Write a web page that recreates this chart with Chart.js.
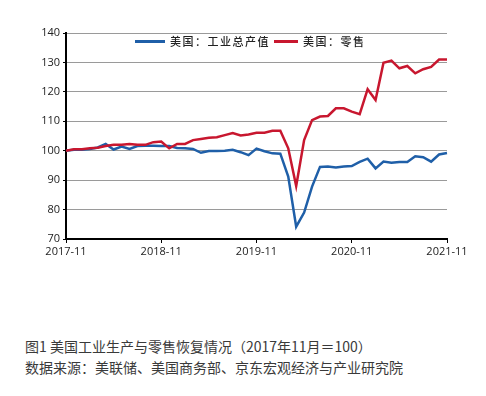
<!DOCTYPE html>
<html>
<head>
<meta charset="utf-8">
<script src="https://cdn.jsdelivr.net/npm/chart.js@4"></script>
<style>
  body { margin: 0; background: #fff; }
  #wrap { position: relative; width: 486px; height: 396px; }
  #chartBox { position: absolute; left: 0; top: 0; width: 486px; height: 270px; }
  .legend { position: absolute; top: 33px; left: 135px; display: flex; align-items: center;
    font-family: "Noto Sans CJK SC", sans-serif; font-size: 11px; font-weight: 500; color: #222; letter-spacing: 1.5px; }
  .legend-line { display: inline-block; width: 30px; height: 3px; margin-right: 5px; }
  .caption { position: absolute; left: 25px; font-family: "Noto Sans CJK SC", sans-serif;
    font-size: 14px; color: #3a3a3a; white-space: nowrap; }
</style>
</head>
<body>
<div id="wrap">
  <div id="chartBox"><canvas id="lineChart"></canvas></div>
  <div class="legend">
    <span class="legend-line" style="background:#1f5fa8"></span><span>美国：工业总产值</span>
    <span class="legend-line" style="background:#c8172f;margin-left:4px;width:24px"></span><span>美国：零售</span>
  </div>
  <div class="caption" style="top:336px">图1 美国工业生产与零售恢复情况（2017年11月＝100）</div>
  <div class="caption" style="top:357px">数据来源：美联储、美国商务部、京东宏观经济与产业研究院</div>
</div>
<script>
// months, 2017-11 .. 2021-11
const months = [
  "2017-11", "2017-12", "2018-01", "2018-02", "2018-03", "2018-04", "2018-05", "2018-06", "2018-07", "2018-08", "2018-09", "2018-10",
  "2018-11", "2018-12", "2019-01", "2019-02", "2019-03", "2019-04", "2019-05", "2019-06", "2019-07", "2019-08", "2019-09", "2019-10",
  "2019-11", "2019-12", "2020-01", "2020-02", "2020-03", "2020-04", "2020-05", "2020-06", "2020-07", "2020-08", "2020-09", "2020-10",
  "2020-11", "2020-12", "2021-01", "2021-02", "2021-03", "2021-04", "2021-05", "2021-06", "2021-07", "2021-08", "2021-09", "2021-10",
  "2021-11"
];
const tickMonths = ["2017-11", "2018-11", "2019-11", "2020-11", "2021-11"];

// 美国：工业总产值 (2017-11 = 100)
const industrial = [
  100.0, 100.3, 100.3, 100.6, 101.1, 102.3, 100.4, 101.4, 100.6, 101.6, 101.7, 101.7,
  101.6, 101.6, 100.9, 100.8, 100.6, 99.3, 99.9, 99.9, 100.0, 100.3, 99.5, 98.5,
  100.7, 99.8, 99.1, 99.0, 91.2, 74.2, 79.0, 87.8, 94.5, 94.6, 94.3, 94.6,
  94.8, 96.2, 97.3, 94.0, 96.3, 95.9, 96.2, 96.2, 98.1, 97.8, 96.3, 98.7,
  99.2
];

// 美国：零售 (2017-11 = 100)
const retail = [
  100.0, 100.5, 100.5, 100.8, 101.0, 101.6, 102.0, 102.0, 102.3, 102.0, 102.0, 102.9,
  103.1, 100.8, 102.3, 102.3, 103.6, 104.0, 104.4, 104.6, 105.3, 106.0, 105.2, 105.5,
  106.1, 106.1, 106.8, 106.8, 100.8, 88.0, 103.6, 110.4, 111.6, 111.8, 114.4, 114.4,
  113.3, 112.4, 120.9, 117.2, 129.9, 130.6, 128.0, 128.8, 126.3, 127.7, 128.5, 131.0,
  131.0
];

const axisFont = { family: "'Open Sans', 'Noto Sans', sans-serif", size: 11 };

const ctx = document.getElementById("lineChart").getContext("2d");
new Chart(ctx, {
  type: "line",
  data: {
    labels: months,
    datasets: [
      {
        label: "美国：工业总产值",
        data: industrial,
        borderColor: "#1f5fa8",
        borderWidth: 2.5,
        pointRadius: 0,
        tension: 0,
        order: 1,
      },
      {
        label: "美国：零售",
        data: retail,
        borderColor: "#c8172f",
        borderWidth: 2.5,
        pointRadius: 0,
        tension: 0,
        order: 0,
      },
    ],
  },
  options: {
    responsive: true,
    maintainAspectRatio: false,
    animation: false,
    layout: { padding: { left: 0, right: 39, top: 33, bottom: 1 } },
    plugins: {
      legend: { display: false },
      tooltip: { enabled: false },
    },
    scales: {
      x: {
        afterFit: (scale) => { scale.height = 30; },
        border: { color: "#000", width: 2 },
        grid: {
          drawOnChartArea: false,
          drawTicks: true,
          tickLength: 4,
          tickColor: "#000",
        },
        ticks: {
          autoSkip: false,
          maxRotation: 0,
          padding: 2,
          color: "#222",
          font: axisFont,
          callback: function (value) {
            const label = this.getLabelForValue(value);
            return tickMonths.includes(label) ? label : null;
          },
        },
      },
      y: {
        min: 70,
        max: 140,
        afterFit: (scale) => { scale.width = 66; },
        border: { color: "#000", width: 2 },
        grid: {
          color: "#9a9a9a",
          borderDash: [1, 2],
          tickBorderDash: [],
          tickColor: "#000",
          tickLength: 3,
        },
        ticks: {
          stepSize: 10,
          padding: 3,
          color: "#222",
          font: axisFont,
        },
      },
    },
  },
});
</script>
</body>
</html>
